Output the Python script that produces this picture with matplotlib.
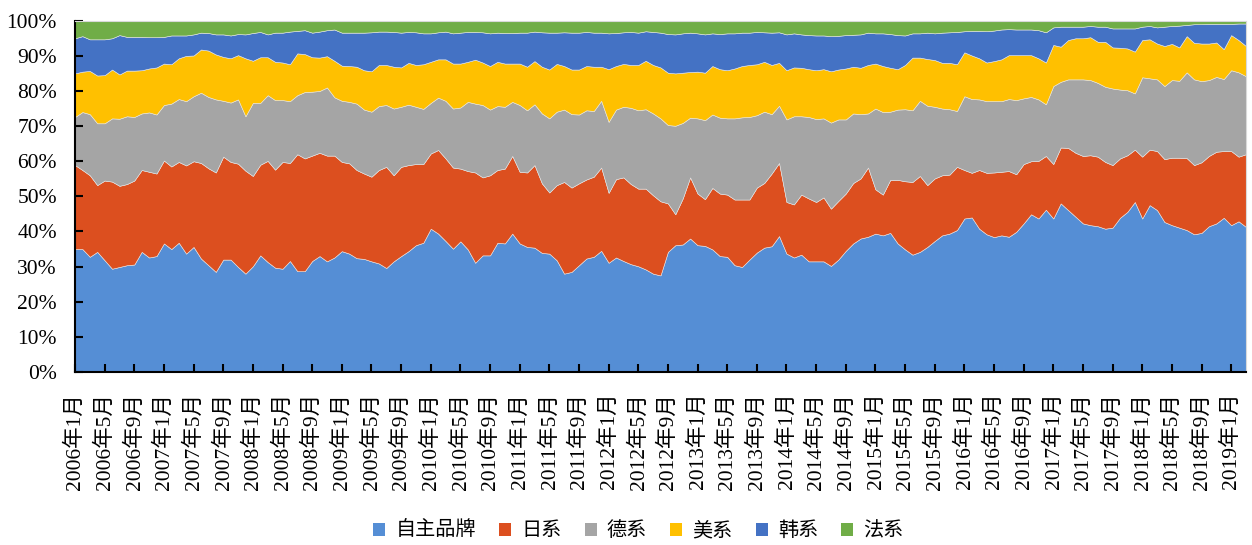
import numpy as np
import pandas as pd
import matplotlib.pyplot as plt
from matplotlib.patches import Patch

plt.rcParams['font.family'] = ['Liberation Serif', 'Noto Sans CJK SC']

# 月度乘用车销量份额 (%), 2006年1月 - 2019年3月
months = pd.date_range('2006-01-01', periods=159, freq='MS')

zizhu = [
    35.0, 35.0, 32.8, 34.2, 31.8, 29.4, 29.9, 30.4, 30.6, 34.2, 32.6, 33.0,
    36.6, 35.0, 36.8, 33.7, 35.6, 32.3, 30.4, 28.5, 32.0, 32.0, 29.9, 28.0,
    30.1, 33.2, 31.3, 29.7, 29.4, 31.6, 28.7, 28.7, 31.6, 33.0, 31.5, 32.6,
    34.4, 33.7, 32.4, 32.2, 31.5, 30.9, 29.6, 31.5, 33.0, 34.4, 36.1, 36.8,
    40.8, 39.4, 37.3, 35.1, 37.2, 34.9, 31.1, 33.2, 33.2, 36.8, 36.6, 39.4,
    36.6, 35.6, 35.4, 33.9, 33.7, 31.8, 28.0, 28.5, 30.4, 32.3, 32.8, 34.5,
    31.1, 32.6, 31.6, 30.7, 30.1, 29.2, 28.0, 27.5, 34.2, 36.1, 36.3, 38.0,
    36.1, 35.9, 34.9, 33.0, 32.8, 30.4, 29.9, 32.0, 34.0, 35.4, 35.8, 38.7,
    33.7, 32.6, 33.4, 31.5, 31.5, 31.5, 30.2, 32.0, 34.5, 36.6, 38.0, 38.5,
    39.4, 38.9, 39.6, 36.6, 34.9, 33.4, 34.2, 35.6, 37.3, 38.9, 39.4, 40.4,
    43.7, 44.0, 40.8, 39.2, 38.4, 38.9, 38.5, 39.9, 42.3, 44.9, 43.7, 46.2,
    43.7, 48.0, 46.1, 44.2, 42.3, 41.8, 41.5, 40.8, 41.1, 43.9, 45.6, 48.4,
    43.7, 47.5, 46.1, 42.7, 41.8, 41.1, 40.4, 39.2, 39.6, 41.5, 42.3, 43.9,
    41.8, 42.9, 41.3,
]
rixi = [
    23.9, 22.5, 23.2, 19.0, 22.7, 24.8, 23.1, 23.1, 23.9, 23.3, 24.4, 23.5,
    23.6, 23.5, 23.0, 25.1, 24.4, 27.2, 27.6, 28.3, 29.3, 27.8, 29.4, 29.3,
    25.7, 25.8, 28.8, 27.9, 30.4, 27.9, 33.3, 32.1, 30.0, 29.4, 30.1, 29.0,
    25.4, 25.7, 25.1, 24.3, 24.1, 26.6, 28.8, 24.5, 25.4, 24.5, 23.1, 22.4,
    21.4, 23.8, 23.5, 23.1, 20.7, 22.3, 25.7, 22.2, 22.8, 20.7, 21.3, 22.1,
    20.4, 21.2, 23.5, 19.8, 17.4, 21.4, 26.1, 24.0, 23.3, 22.5, 22.8, 23.7,
    19.9, 22.3, 23.8, 22.8, 22.1, 23.0, 22.3, 21.1, 13.8, 8.8, 13.1, 17.4,
    14.7, 13.3, 17.5, 17.8, 17.7, 18.7, 19.2, 17.1, 18.5, 18.4, 20.7, 20.8,
    14.7, 15.1, 17.1, 17.9, 16.9, 18.2, 16.3, 16.7, 16.3, 17.2, 17.1, 19.7,
    12.6, 11.6, 15.1, 18.1, 19.4, 20.7, 21.6, 17.6, 17.8, 17.1, 16.8, 18.0,
    13.8, 12.7, 16.7, 17.5, 18.4, 18.1, 18.7, 16.4, 16.9, 15.1, 16.4, 15.3,
    15.5, 15.9, 17.7, 18.2, 19.2, 19.9, 19.8, 19.0, 17.8, 16.9, 16.1, 14.9,
    17.6, 15.8, 16.8, 17.9, 19.2, 19.9, 20.5, 19.7, 20.1, 20.0, 20.4, 19.0,
    21.1, 18.4, 20.7,
]
dexi = [
    13.7, 16.5, 17.4, 17.6, 16.3, 18.0, 19.1, 19.3, 18.1, 16.1, 16.9, 16.8,
    15.8, 17.9, 17.9, 18.3, 18.5, 20.0, 20.3, 20.8, 15.9, 16.9, 18.3, 15.5,
    20.8, 17.6, 18.7, 19.8, 17.6, 17.6, 16.8, 18.9, 18.2, 17.6, 19.4, 16.6,
    17.4, 17.5, 18.9, 18.2, 18.5, 18.2, 17.6, 19.0, 17.1, 17.2, 16.3, 15.7,
    14.4, 14.9, 16.4, 16.8, 17.4, 19.7, 19.6, 20.6, 18.7, 18.2, 17.6, 15.4,
    19.0, 17.7, 17.3, 19.9, 21.1, 20.9, 20.6, 20.9, 19.6, 19.7, 18.7, 19.0,
    20.2, 19.8, 20.1, 21.7, 22.3, 22.6, 23.3, 23.6, 22.3, 25.2, 21.5, 17.0,
    21.4, 22.5, 20.9, 21.6, 21.7, 23.1, 23.4, 23.5, 20.6, 20.3, 16.9, 16.3,
    23.5, 25.1, 22.3, 23.2, 23.6, 22.5, 24.5, 23.2, 21.1, 19.8, 18.3, 15.4,
    23.0, 23.5, 19.4, 20.0, 20.5, 20.4, 21.4, 22.6, 20.4, 19.0, 18.6, 15.9,
    21.0, 21.0, 20.1, 20.4, 20.3, 20.1, 20.5, 21.1, 18.7, 18.3, 17.5, 14.7,
    22.2, 18.7, 19.5, 20.9, 21.8, 21.4, 21.0, 21.4, 21.8, 19.6, 18.5, 16.0,
    22.6, 20.3, 20.4, 20.8, 22.1, 21.9, 24.4, 24.4, 23.1, 21.6, 21.3, 20.5,
    23.0, 24.0, 22.2,
]
meixi = [
    12.4, 11.5, 12.3, 13.6, 13.7, 13.9, 12.6, 13.0, 13.2, 12.3, 12.5, 13.4,
    11.8, 11.2, 11.6, 12.9, 11.6, 12.3, 13.2, 12.8, 12.5, 12.6, 12.6, 16.5,
    12.0, 13.0, 10.8, 10.9, 10.7, 10.5, 11.9, 10.8, 9.8, 9.5, 8.9, 10.4,
    10.0, 10.2, 10.5, 11.2, 11.5, 11.7, 11.4, 11.9, 11.2, 11.9, 11.9, 12.7,
    11.7, 10.9, 11.8, 12.8, 12.5, 11.4, 12.5, 12.1, 12.4, 12.6, 12.3, 10.9,
    11.8, 12.4, 12.3, 13.3, 13.9, 13.6, 12.4, 12.7, 12.8, 12.6, 12.6, 9.7,
    15.0, 12.4, 12.2, 12.2, 12.9, 13.8, 13.8, 14.5, 14.9, 14.9, 14.3, 13.0,
    13.3, 13.5, 13.8, 13.8, 13.7, 14.2, 14.6, 14.8, 14.5, 14.2, 14.0, 12.2,
    14.0, 13.9, 13.8, 13.6, 13.9, 14.0, 14.6, 14.2, 14.5, 13.3, 13.2, 13.8,
    12.8, 13.1, 12.5, 11.5, 12.6, 15.0, 12.3, 13.3, 13.3, 13.0, 13.2, 13.3,
    12.5, 12.4, 11.7, 11.0, 11.4, 11.9, 12.5, 12.8, 12.3, 11.9, 11.7, 11.9,
    11.7, 10.0, 11.2, 11.7, 11.7, 12.2, 11.7, 12.8, 11.7, 11.9, 11.9, 11.9,
    10.6, 11.1, 10.2, 11.4, 10.3, 9.5, 10.3, 10.4, 10.7, 10.4, 9.8, 8.5,
    10.0, 9.2, 8.6,
]
hanxi = [
    10.0, 10.1, 9.0, 10.3, 10.2, 8.9, 11.2, 9.6, 9.6, 9.5, 8.9, 8.6,
    7.6, 8.2, 6.5, 5.8, 6.0, 4.8, 5.0, 5.7, 6.4, 6.5, 6.0, 6.8,
    7.9, 7.2, 6.5, 8.3, 8.5, 9.3, 6.4, 6.8, 7.0, 7.4, 7.4, 8.9,
    9.4, 9.5, 9.7, 10.7, 11.1, 9.5, 9.5, 9.9, 9.9, 8.8, 9.3, 8.8,
    8.1, 7.7, 7.9, 8.6, 8.8, 8.5, 7.9, 8.6, 9.3, 8.3, 8.7, 8.7,
    8.8, 9.7, 8.4, 9.8, 10.5, 8.9, 9.6, 10.5, 10.5, 9.7, 9.7, 9.7,
    10.2, 9.4, 9.0, 9.4, 9.2, 8.4, 9.4, 9.9, 11.0, 11.1, 11.2, 11.2,
    10.9, 10.9, 9.3, 10.0, 10.5, 10.0, 9.5, 9.2, 9.2, 8.4, 9.2, 8.7,
    10.2, 9.7, 9.5, 9.7, 9.9, 9.6, 10.0, 9.6, 9.5, 9.1, 9.5, 9.2,
    8.6, 9.3, 9.6, 9.7, 8.4, 6.9, 6.9, 7.5, 7.6, 8.6, 8.7, 9.2,
    6.0, 7.0, 7.8, 8.9, 8.7, 8.5, 7.4, 7.3, 7.3, 7.3, 8.0, 8.6,
    5.0, 5.7, 3.8, 3.3, 3.3, 3.2, 4.3, 4.3, 5.4, 5.5, 5.7, 6.6,
    3.8, 3.8, 4.6, 5.5, 5.1, 6.2, 3.2, 5.3, 5.5, 5.6, 5.3, 7.2,
    3.2, 4.7, 6.4,
]
faxi = [
    5.0, 4.4, 5.3, 5.3, 5.3, 5.0, 4.1, 4.6, 4.6, 4.6, 4.7, 4.7,
    4.6, 4.2, 4.2, 4.2, 3.9, 3.4, 3.5, 3.9, 3.9, 4.2, 3.8, 3.9,
    3.5, 3.2, 3.9, 3.4, 3.4, 3.1, 2.9, 2.7, 3.4, 3.1, 2.7, 2.5,
    3.4, 3.4, 3.4, 3.4, 3.3, 3.1, 3.1, 3.2, 3.4, 3.2, 3.3, 3.6,
    3.6, 3.3, 3.1, 3.6, 3.4, 3.2, 3.2, 3.3, 3.6, 3.4, 3.5, 3.5,
    3.4, 3.4, 3.1, 3.3, 3.4, 3.4, 3.3, 3.4, 3.4, 3.2, 3.4, 3.4,
    3.6, 3.5, 3.3, 3.2, 3.4, 3.0, 3.2, 3.4, 3.8, 3.9, 3.6, 3.4,
    3.6, 3.9, 3.6, 3.8, 3.6, 3.6, 3.4, 3.4, 3.2, 3.3, 3.4, 3.3,
    3.9, 3.6, 3.9, 4.1, 4.2, 4.2, 4.4, 4.3, 4.1, 4.0, 3.9, 3.4,
    3.6, 3.6, 3.8, 4.1, 4.2, 3.6, 3.6, 3.4, 3.6, 3.4, 3.3, 3.2,
    3.0, 2.9, 2.9, 3.0, 2.8, 2.5, 2.4, 2.5, 2.5, 2.5, 2.7, 3.3,
    1.9, 1.7, 1.7, 1.7, 1.7, 1.5, 1.7, 1.7, 2.2, 2.2, 2.2, 2.2,
    1.7, 1.5, 1.9, 1.7, 1.5, 1.4, 1.2, 1.0, 1.0, 0.9, 0.9, 0.9,
    0.9, 0.8, 0.8,
]

series = ['自主品牌', '日系', '德系', '美系', '韩系', '法系']
colors = ['#558ED5', '#DC4F1F', '#A5A5A5', '#FFC000', '#4472C4', '#70AD47']

x = np.arange(len(months))
tick_labels = [f'{d.year}年{d.month}月' for d in months]

fig = plt.figure(figsize=(12.52, 5.45), dpi=100)
ax = fig.add_axes([0.0599, 0.3174, 0.9353, 0.6446])

ax.stackplot(x, zizhu, rixi, dexi, meixi, hanxi, faxi,
             colors=colors, edgecolor='#E6E6E6', linewidth=0.4)

ax.set_xlim(0, len(x) - 1)
ax.set_ylim(0, 100)

ax.set_yticks(np.arange(0, 101, 10))
ax.set_yticklabels([f'{v}%' for v in range(0, 101, 10)], fontsize=15.5)
ax.set_xticks(x[::4])
ax.set_xticklabels(tick_labels[::4], rotation=90, fontsize=15.5)

ax.tick_params(axis='both', direction='in', length=6, width=1.5, colors='black')
ax.tick_params(axis='x', pad=15)
ax.tick_params(axis='y', pad=13)

for side in ['left', 'bottom']:
    ax.spines[side].set_linewidth(1.5)
for side in ['top', 'right']:
    ax.spines[side].set_color('#D9D9D9')
    ax.spines[side].set_linewidth(0.8)

handles = [Patch(facecolor=c, edgecolor='none') for c in colors]
fig.legend(handles, series, loc='center', bbox_to_anchor=(0.51, 0.026),
           ncol=6, frameon=False, handlelength=0.6,
           handleheight=0.6, handletextpad=0.5, columnspacing=1.15,
           prop={'family': ['Noto Sans CJK SC'], 'size': 14.5})

fig.savefig('out.png', dpi=100)
